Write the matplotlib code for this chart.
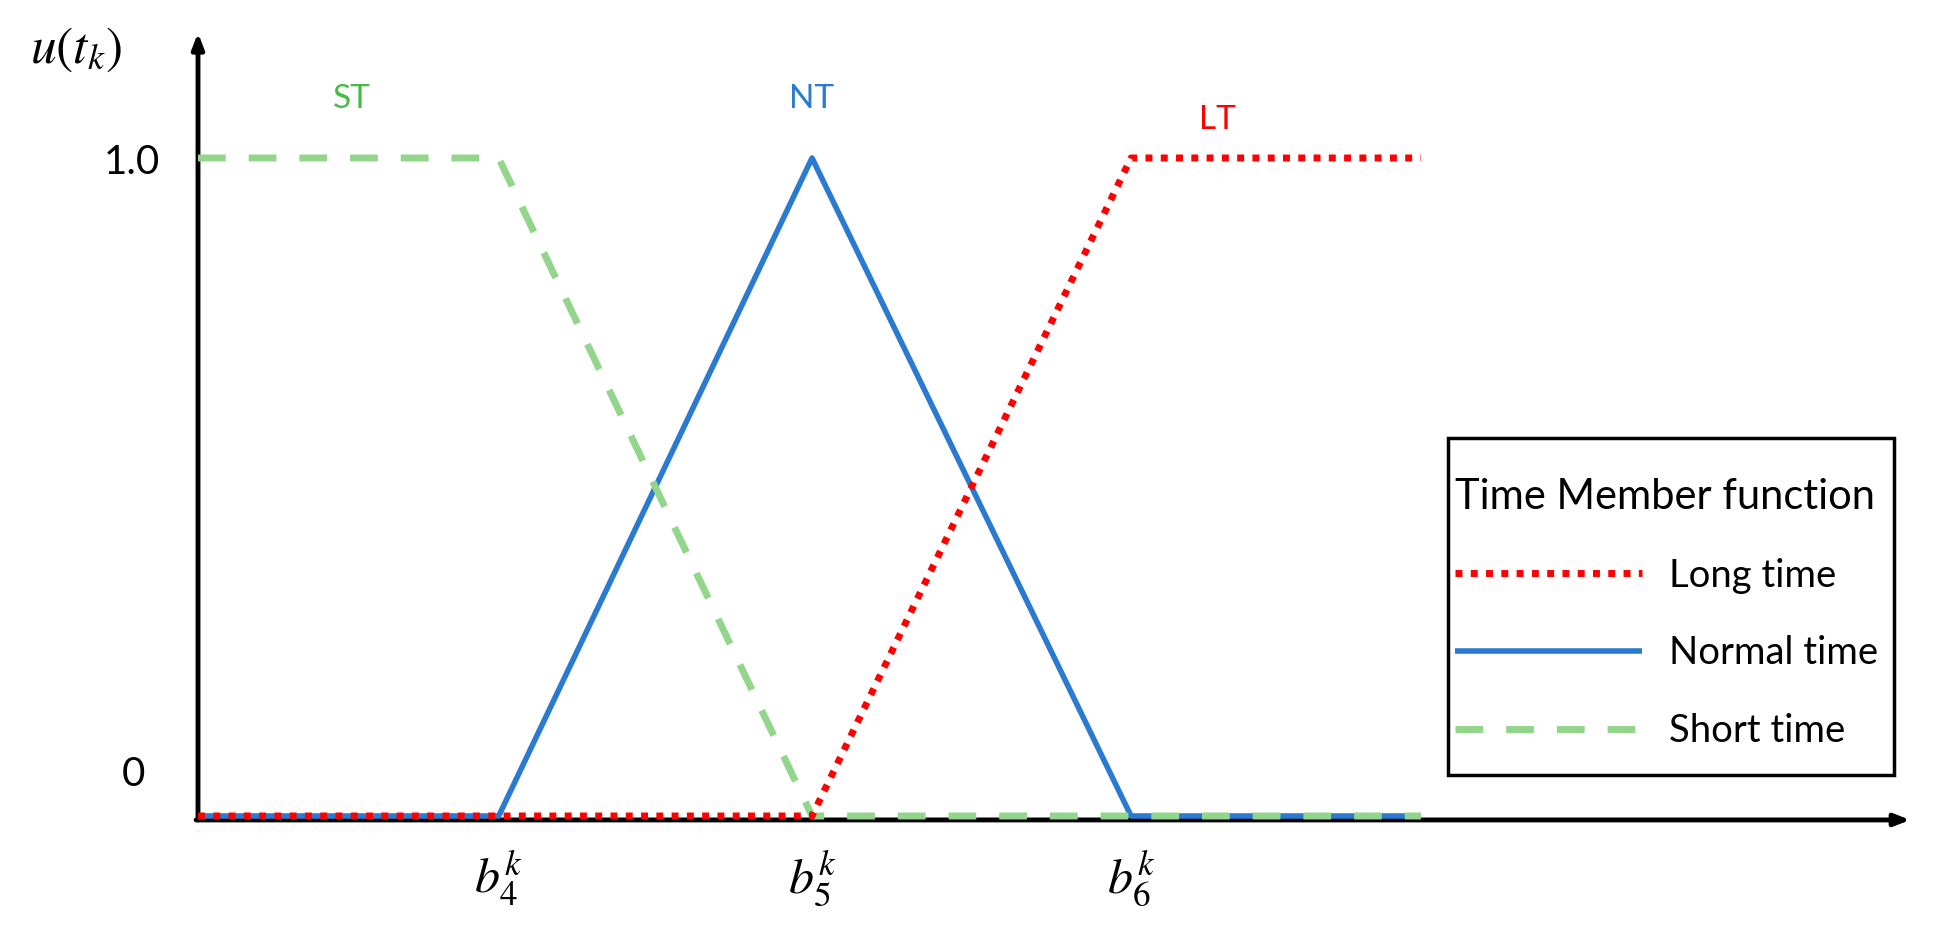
import numpy as np
import matplotlib
matplotlib.use('Agg')
import matplotlib.pyplot as plt
from matplotlib.patches import Rectangle

plt.rcParams['font.family'] = ['Lato', 'DejaVu Sans']
plt.rcParams['mathtext.fontset'] = 'stix'

# breakpoints on the time axis (b4, b5, b6) and end of the curves
b_pos = [0.95, 1.94, 2.948]
b_labels = [r'$b_4^k$', r'$b_5^k$', r'$b_6^k$']
x_end = 3.864

# membership curves
st_x = [0, b_pos[0], b_pos[1], x_end]
st_y = [1, 1, 0, 0]
nt_x = [0, b_pos[0], b_pos[1], b_pos[2], x_end]
nt_y = [0, 0, 1, 0, 0]
lt_x = [0, b_pos[1], b_pos[2], x_end]
lt_y = [0, 0, 1, 1]

green = '#93d68b'
blue = '#2a7ad2'
red = '#ff0000'

W, H = 1938, 925
fig = plt.figure(figsize=(W / 100, H / 100), dpi=100)
ax = fig.add_axes([0, 0, 1, 1])
# pixel mapping: x = 198 + 316.5*x, y = 816 - 658*y
ax.set_xlim(-198 / 316.5, (W - 198) / 316.5)
ax.set_ylim((816 - H) / 658, 816 / 658)
ax.axis('off')

ax.plot(nt_x, nt_y, color=blue, lw=4.0, solid_capstyle='butt', zorder=2,
        label='Normal time')
ax.plot(st_x, st_y, color=green, lw=5.0, dashes=(4.0, 3.3), zorder=3,
        label='Short time')
ax.plot(lt_x, lt_y, color=red, lw=5.0, dashes=(1.0, 1.2), zorder=4,
        label='Long time')

# axes with arrow heads
ax.annotate('', xy=(0, 1.19), xytext=(0, -0.006),
            arrowprops=dict(arrowstyle='-|>,head_length=0.9,head_width=0.35',
                            color='black', lw=3.5, shrinkA=0, shrinkB=0),
            zorder=1)
ax.annotate('', xy=(5.41, -0.006), xytext=(-0.006, -0.006),
            arrowprops=dict(arrowstyle='-|>,head_length=0.9,head_width=0.35',
                            color='black', lw=3.5, shrinkA=0, shrinkB=0),
            zorder=1)

# y labels
fig.text(160 / W, 1 - 162 / H, '1.0', fontsize=29, ha='right', va='center')
fig.text(133 / W, 1 - 775 / H, '0', fontsize=29, ha='center', va='center')
fig.text(76 / W, 1 - 50 / H, r'$u(t_k)$', fontsize=37, ha='center', va='center')

# x labels
for xb, lab in zip(b_pos, b_labels):
    ax.text(xb, -0.095, lab, fontsize=36, ha='center', va='center')

# curve names
fig.text(352 / W, 1 - 99 / H, 'ST', fontsize=24, color='#4cb848', ha='center', va='center')
fig.text(812 / W, 1 - 99 / H, 'NT', fontsize=24, color=blue, ha='center', va='center')
fig.text(1217 / W, 1 - 120 / H, 'LT', fontsize=24, color=red, ha='center', va='center')

handles, labels = ax.get_legend_handles_labels()
order = [2, 0, 1]
leg = ax.legend([handles[i] for i in order], [labels[i] for i in order],
                title='Time Member function', title_fontsize=30, fontsize=27.5,
                loc='upper left', bbox_to_anchor=(1455 / W, 1 - 478 / H),
                bbox_transform=fig.transFigure, frameon=False,
                handlelength=4.9, handletextpad=0.7, labelspacing=1.09,
                borderpad=0, borderaxespad=0)
leg._legend_box.align = 'left'

# legend frame
fig.patches.append(Rectangle((1448 / W, 1 - 775 / H), 446 / W, 337 / H,
                             transform=fig.transFigure, fill=False,
                             edgecolor='black', lw=2.5))

fig.savefig('out.png', dpi=100)
